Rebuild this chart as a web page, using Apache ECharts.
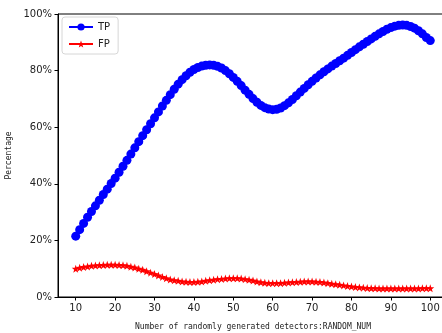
<!DOCTYPE html>
<html>
<head>
<meta charset="utf-8">
<script src="https://cdn.jsdelivr.net/npm/echarts@6/dist/echarts.min.js"></script>
<style>
  html, body { margin: 0; padding: 0; background: #fff; }
  #chart { width: 442px; height: 333px; }
</style>
</head>
<body>
<div id="chart"></div>
<script>
// x positions: number of randomly generated detectors
const xs = [];
for (let n = 10; n <= 100; n++) xs.push(n);

// one value per detector count (10..100)
const tpValues = [
  21.5, 23.8, 26.0, 28.2, 30.2, 32.2, 34.2, 36.2, 38.1, 40.1,
  42.0, 44.1, 46.2, 48.3, 50.5, 52.7, 54.9, 57.0, 59.1, 61.2,
  63.3, 65.4, 67.5, 69.5, 71.5, 73.4, 75.2, 76.8, 78.2, 79.4,
  80.4, 81.1, 81.6, 81.9, 82.0, 81.9, 81.5, 80.9, 80.0, 78.9,
  77.6, 76.2, 74.7, 73.1, 71.6, 70.1, 68.8, 67.7, 66.9, 66.4,
  66.2, 66.3, 66.8, 67.6, 68.6, 69.8, 71.1, 72.4, 73.7, 75.0,
  76.2, 77.4, 78.5, 79.6, 80.6, 81.6, 82.5, 83.5, 84.4, 85.4,
  86.4, 87.4, 88.4, 89.3, 90.3, 91.2, 92.1, 93.0, 93.8, 94.6,
  95.2, 95.7, 96.0, 96.1, 96.0, 95.6, 95.0, 94.1, 93.0, 91.7,
  90.6
];
const fpValues = [
  10.0, 10.3, 10.6, 10.8, 11.0, 11.1, 11.2, 11.3, 11.4, 11.4,
  11.4, 11.3, 11.2, 11.0, 10.7, 10.4, 10.0, 9.6, 9.1, 8.6,
  8.1, 7.6, 7.1, 6.6, 6.2, 5.9, 5.7, 5.5, 5.4, 5.3,
  5.3, 5.4, 5.5, 5.7, 5.9, 6.1, 6.3, 6.4, 6.5, 6.6,
  6.6, 6.6, 6.5, 6.3, 6.1, 5.8, 5.5, 5.2, 5.0, 4.9,
  4.9, 4.9, 4.9, 5.0, 5.1, 5.2, 5.3, 5.4, 5.5, 5.5,
  5.5, 5.4, 5.3, 5.1, 4.9, 4.7, 4.5, 4.3, 4.1, 3.9,
  3.7, 3.5, 3.4, 3.3, 3.2, 3.1, 3.1, 3.0, 3.0, 3.0,
  3.0, 3.0, 3.0, 3.0, 3.0, 3.0, 3.0, 3.0, 3.1, 3.1,
  3.1
];
const xTicks = [10, 20, 30, 40, 50, 60, 70, 80, 90, 100];

const star = 'path://M0,-10L2.35,-3.24L9.51,-3.09L3.8,1.24L5.88,8.09L0,4L-5.88,8.09L-3.8,1.24L-9.51,-3.09L-2.35,-3.24Z';
const font = 'DejaVu Sans';

const chart = echarts.init(document.getElementById('chart'));
chart.setOption({
  animation: false,
  grid: {
    left: 58, top: 14, width: 390, height: 283, outerBoundsMode: 'none',
    show: true, borderColor: '#000', borderWidth: 1
  },
  legend: {
    left: 62, top: 17, orient: 'vertical', itemGap: 7, itemWidth: 24, itemHeight: 9,
    padding: [5, 8, 5, 6], borderColor: '#d6d6d6', borderWidth: 1, borderRadius: 3, backgroundColor: '#fff',
    textStyle: { fontFamily: font, fontSize: 10, color: '#222' },
    data: ['TP', 'FP']
  },
  xAxis: {
    type: 'value', min: 5.5, max: 104.5,
    name: 'Number of randomly generated detectors:RANDOM_NUM', nameLocation: 'middle', nameGap: 26,
    nameTextStyle: { fontFamily: 'DejaVu Sans Mono', fontSize: 8, color: '#222' },
    axisLine: { lineStyle: { color: '#000' } },
    axisTick: { length: 3.5, lineStyle: { color: '#000' }, customValues: xTicks },
    axisLabel: { fontFamily: font, fontSize: 10, color: '#222', margin: 6, customValues: xTicks },
    splitLine: { show: false }
  },
  yAxis: {
    type: 'value', min: 0, max: 100, interval: 20,
    name: 'Percentage', nameLocation: 'middle', nameGap: 41,
    nameTextStyle: { fontFamily: 'DejaVu Sans Mono', fontSize: 8, color: '#222' },
    axisLine: { show: true, lineStyle: { color: '#000' } },
    axisTick: { show: true, length: 3.5, lineStyle: { color: '#000' } },
    axisLabel: { fontFamily: font, fontSize: 10, color: '#222', margin: 6, formatter: v => v + '%' },
    splitLine: { show: false }
  },
  series: [
    {
      name: 'TP', type: 'line', data: xs.map((x, i) => [x, tpValues[i]]),
      symbol: 'circle', symbolSize: 9, showAllSymbol: true,
      lineStyle: { color: '#0000ff', width: 1.5 }, itemStyle: { color: '#0000ff' }
    },
    {
      name: 'FP', type: 'line', data: xs.map((x, i) => [x, fpValues[i]]),
      symbol: star, symbolSize: 8, showAllSymbol: true,
      lineStyle: { color: '#ff0000', width: 1.5 }, itemStyle: { color: '#ff0000' }
    }
  ]
});
</script>
</body>
</html>
